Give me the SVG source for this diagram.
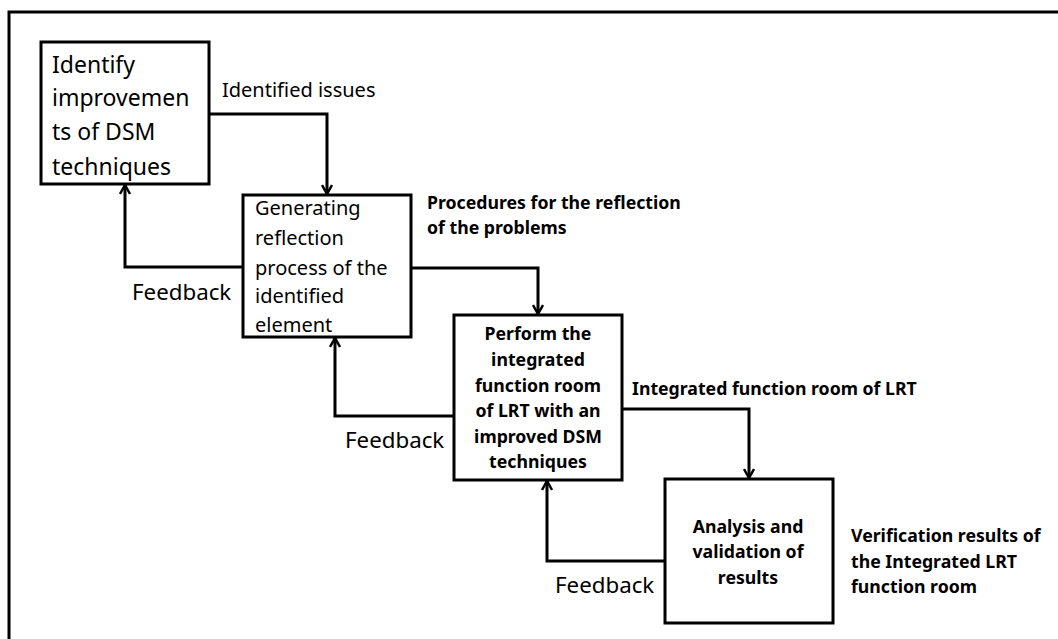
<svg xmlns="http://www.w3.org/2000/svg" width="1058" height="639" viewBox="0 0 1058 639">
<style>
.box{fill:#fff;stroke:#000;stroke-width:3}
.con{fill:none;stroke:#000;stroke-width:3}
.t{font-family:"Noto Sans","Open Sans",sans-serif;fill:#000}
.r{font-weight:normal}
.b{font-weight:bold;font-size:17.7px}
</style>
<defs>
<marker id="ah" viewBox="0 0 12 12" refX="11" refY="6" markerWidth="12" markerHeight="12" markerUnits="userSpaceOnUse" orient="auto">
<polyline points="2,1 11,6 2,11" fill="none" stroke="#000" stroke-width="2.5"/>
</marker>
</defs>
<rect width="1058" height="639" fill="#fff"/>
<path d="M9,639 V12 H1058" fill="none" stroke="#000" stroke-width="3"/>
<g id="connectors">
<path class="con" d="M209,114 H327 V194" marker-end="url(#ah)"/>
<path class="con" d="M411,268 H538 V314" marker-end="url(#ah)"/>
<path class="con" d="M622,409 H749 V478" marker-end="url(#ah)"/>
<path class="con" d="M243,267 H125 V185" marker-end="url(#ah)"/>
<path class="con" d="M454,416 H335 V338" marker-end="url(#ah)"/>
<path class="con" d="M665,561 H547 V481" marker-end="url(#ah)"/>
<text class="t r" x="222" y="97" font-size="20">Identified issues</text>
<text class="t b" x="427" y="209">Procedures for the reflection</text>
<text class="t b" x="427" y="234">of the problems</text>
<text class="t b" x="632" y="395">Integrated function room of LRT</text>
<text class="t r" x="132" y="300" font-size="22.3">Feedback</text>
<text class="t r" x="345" y="448" font-size="22.3">Feedback</text>
<text class="t r" x="555" y="593" font-size="22.3">Feedback</text>
<text class="t b" x="851" y="542">Verification results of</text>
<text class="t b" x="851" y="568">the Integrated LRT</text>
<text class="t b" x="851" y="593">function room</text>
</g>
<g id="node1">
<rect class="box" x="41" y="42" width="168" height="142"/>
<text class="t r" font-size="23" x="52" y="73">Identify</text>
<text class="t r" font-size="23" x="52" y="106">improvemen</text>
<text class="t r" font-size="23" x="52" y="140">ts of DSM</text>
<text class="t r" font-size="23" x="52" y="175">techniques</text>
</g>
<g id="node2">
<rect class="box" x="243" y="195" width="168" height="142"/>
<text class="t r" font-size="20" x="255" y="215">Generating</text>
<text class="t r" font-size="20" x="255" y="245">reflection</text>
<text class="t r" font-size="20" x="255" y="275">process of the</text>
<text class="t r" font-size="20" x="255" y="303">identified</text>
<text class="t r" font-size="20" x="255" y="332">element</text>
</g>
<g id="node3">
<rect class="box" x="454" y="315" width="168" height="165"/>
<g text-anchor="middle">
<text class="t b" x="538" y="340">Perform the</text>
<text class="t b" x="538" y="366">integrated</text>
<text class="t b" x="538" y="392">function room</text>
<text class="t b" x="538" y="417">of LRT with an</text>
<text class="t b" x="538" y="443">improved DSM</text>
<text class="t b" x="538" y="468">techniques</text>
</g>
</g>
<g id="node4">
<rect class="box" x="665" y="479" width="168" height="144"/>
<g text-anchor="middle">
<text class="t b" x="748" y="533">Analysis and</text>
<text class="t b" x="748" y="558">validation of</text>
<text class="t b" x="748" y="584">results</text>
</g>
</g>
</svg>
